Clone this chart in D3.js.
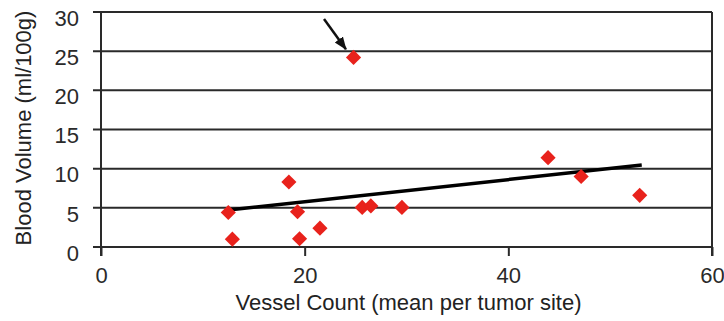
<!DOCTYPE html>
<html>
<head>
<meta charset="utf-8">
<script src="https://d3js.org/d3.v7.min.js"></script>
<style>
body { margin: 0; background: #fff; }
text { font-family: "Liberation Sans", Arial, sans-serif; fill: #222; }
.grid line { stroke: #2a2a2a; stroke-width: 2; }
.axis path { display: none; }
.axis line { stroke: #2a2a2a; stroke-width: 2; }
.axis text { font-size: 22px; fill: #2a2a2a; }
.title { font-size: 22px; }
</style>
</head>
<body>
<svg id="chart" width="724" height="321"></svg>
<script>
// vessel count vs blood volume, one point per tumor site
var vesselCount = [12.5, 12.9, 18.45, 19.3, 19.5, 21.5, 25.65, 26.5, 29.55, 24.8, 43.9, 47.15, 52.9];
var bloodVolume = [4.4, 1.0, 8.3, 4.5, 1.05, 2.4, 5.05, 5.25, 5.05, 24.2, 11.4, 9.0, 6.6];

// fitted line end points
var trendX = [12.5, 53.1];
var trendY = [4.72, 10.46];

// arrow pointing at the outlier (tail, head)
var arrowX = [21.9, 24.05];
var arrowY = [29.1, 25.25];

var xTicks = [0, 20, 40, 60];
var yTicks = [0, 5, 10, 15, 20, 25, 30];

var margin = {top: 12, right: 12, bottom: 74, left: 101},
    width = 712 - margin.left,
    height = 247 - margin.top;

var svg = d3.select("#chart");

svg.append("defs").append("marker")
    .attr("id", "arrow")
    .attr("markerUnits", "userSpaceOnUse")
    .attr("markerWidth", 14)
    .attr("markerHeight", 14)
    .attr("viewBox", "0 0 14 14")
    .attr("refX", 12)
    .attr("refY", 7)
    .attr("orient", "auto")
  .append("path")
    .attr("d", "M0,2 L13,7 L0,12 Z")
    .attr("fill", "#111");

var g = svg.append("g")
    .attr("transform", "translate(" + margin.left + "," + margin.top + ")");

var x = d3.scaleLinear().domain([0, 60]).range([0, width]);
var y = d3.scaleLinear().domain([0, 30]).range([height, 0]);

// horizontal grid, sticking out a little to the left like tick marks
g.append("g")
    .attr("class", "grid")
  .selectAll("line")
    .data(yTicks)
    .enter().append("line")
    .attr("x1", -8)
    .attr("x2", width)
    .attr("y1", function(d) { return y(d); })
    .attr("y2", function(d) { return y(d); });

// y axis labels
g.append("g")
    .attr("class", "axis axis--y")
    .call(d3.axisLeft(y).tickValues(yTicks).tickSize(0).tickPadding(22))
  .selectAll("text")
    .attr("dy", "0.6em");

// x axis
g.append("g")
    .attr("class", "axis axis--x")
    .attr("transform", "translate(0," + height + ")")
    .call(d3.axisBottom(x).tickValues(xTicks).tickSize(9).tickPadding(11));

// left and right vertical lines
g.append("g")
    .attr("class", "grid")
  .selectAll("line")
    .data([0, 60])
    .enter().append("line")
    .attr("x1", function(d) { return x(d); })
    .attr("x2", function(d) { return x(d); })
    .attr("y1", y(30))
    .attr("y2", height + 9);

// trend line
g.append("line")
    .attr("x1", x(trendX[0]))
    .attr("y1", y(trendY[0]))
    .attr("x2", x(trendX[1]))
    .attr("y2", y(trendY[1]))
    .attr("stroke", "#000")
    .attr("stroke-width", 3.5);

// points
var diamond = d3.symbol().type(d3.symbolSquare).size(115);
g.selectAll(".dot")
    .data(vesselCount)
    .enter().append("path")
    .attr("class", "dot")
    .attr("d", diamond)
    .attr("fill", "#e8221c")
    .attr("transform", function(d, i) {
        return "translate(" + x(d) + "," + y(bloodVolume[i]) + ") rotate(45)";
    });

// arrow
g.append("line")
    .attr("x1", x(arrowX[0]))
    .attr("y1", y(arrowY[0]))
    .attr("x2", x(arrowX[1]))
    .attr("y2", y(arrowY[1]))
    .attr("stroke", "#111")
    .attr("stroke-width", 2.5)
    .attr("marker-end", "url(#arrow)");

// axis titles
svg.append("text")
    .attr("class", "title")
    .attr("text-anchor", "middle")
    .attr("x", margin.left + width / 2 + 2)
    .attr("y", 310)
    .text("Vessel Count (mean per tumor site)");

svg.append("text")
    .attr("class", "title")
    .attr("text-anchor", "middle")
    .attr("transform", "translate(31," + 128 + ") rotate(-90)")
    .text("Blood Volume (ml/100g)");
</script>
</body>
</html>
